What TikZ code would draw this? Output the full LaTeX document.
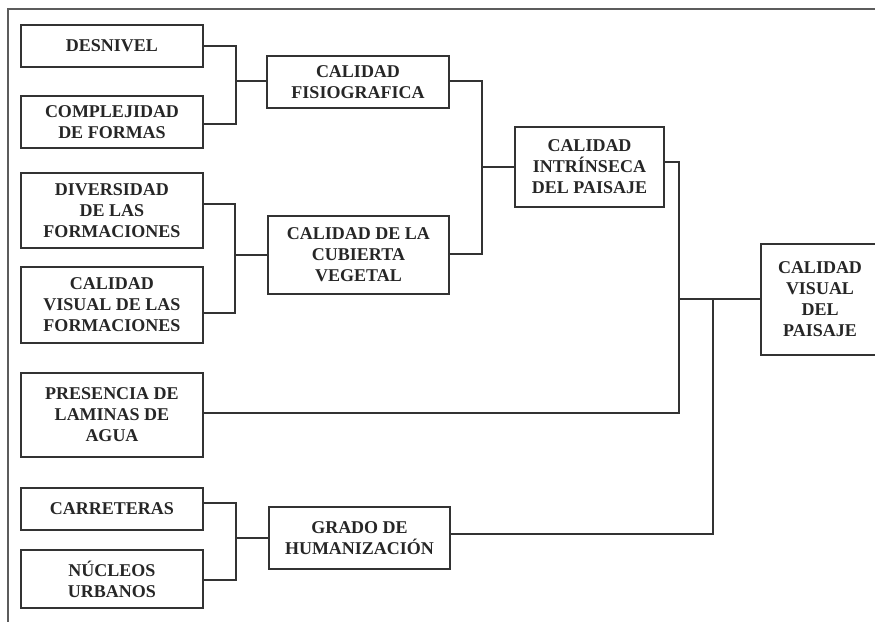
\documentclass[tikz,border=0pt]{standalone}
\usepackage{fontspec}
\setmainfont{Liberation Serif}
\definecolor{ink}{HTML}{333333}
\begin{document}
\begin{tikzpicture}[x=1pt,y=-1pt,
  box/.style={draw=ink, line width=1.7pt, rectangle, align=center, inner sep=0pt,
    font=\fontsize{18}{21}\selectfont\bfseries, text=black!85},
  link/.style={draw=ink, line width=1.3pt},
  frame/.style={draw=ink!80, line width=1.8pt}]
\useasboundingbox (0,0) rectangle (875,621);
\clip (0,0) rectangle (875,621);
\draw[frame] (8,630) -- (8,9) -- (880,9);
% left column
\node[box, minimum width=182, minimum height=42] (des) at (112,46) {DESNIVEL};
\node[box, minimum width=182, minimum height=52] (comp) at (112,122) {COMPLEJIDAD\\DE FORMAS};
\node[box, minimum width=182, minimum height=75] (div) at (112,210.5) {DIVERSIDAD\\DE LAS\\FORMACIONES};
\node[box, minimum width=182, minimum height=76] (cvf) at (112,305) {CALIDAD\\VISUAL DE LAS\\FORMACIONES};
\node[box, minimum width=182, minimum height=84] (pres) at (112,415) {PRESENCIA DE\\LAMINAS DE\\AGUA};
\node[box, minimum width=182, minimum height=42] (car) at (112,509) {CARRETERAS};
\node[box, minimum width=182, minimum height=58] (nuc) at (112,579) {NÚCLEOS\\URBANOS};
% middle column
\node[box, minimum width=182, minimum height=52] (fis) at (358,82) {CALIDAD\\FISIOGRAFICA};
\node[box, minimum width=181, minimum height=78] (cub) at (358.5,255) {CALIDAD DE LA\\CUBIERTA\\VEGETAL};
\node[box, minimum width=181, minimum height=62] (gra) at (359.5,538) {GRADO DE\\HUMANIZACIÓN};
% right
\node[box, minimum width=149, minimum height=80] (intr) at (589.5,167) {CALIDAD\\INTRÍNSECA\\DEL PAISAJE};
\node[box, minimum width=118, minimum height=111] (vis) at (820,299.5) {CALIDAD\\VISUAL\\DEL\\PAISAJE};
% junctions
\coordinate (j1) at (236,81);
\coordinate (j2) at (235,255);
\coordinate (j3) at (482,167);
\coordinate (j4) at (236,538);
\coordinate (j5) at (679,299);
\coordinate (j6) at (713,299);
% connectors
\draw[link] (des.east) -| (j1) |- ([yshift=-2pt]comp.east);
\draw[link] (j1) -- (j1 -| fis.west);
\draw[link] ([yshift=6.5pt]div.east) -| (j2) |- ([yshift=-8pt]cvf.east);
\draw[link] (j2) -- (j2 -| cub.west);
\draw[link] ([yshift=1pt]fis.east) -| (j3) |- ([yshift=1pt]cub.east);
\draw[link] (j3) -- (j3 -| intr.west);
\draw[link] ([yshift=5pt]intr.east) -| (j5) |- ([yshift=2pt]pres.east);
\draw[link] (j5) -- (j5 -| vis.west);
\draw[link] ([yshift=6pt]car.east) -| (j4) |- ([yshift=-1pt]nuc.east);
\draw[link] (j4) -- (j4 -| gra.west);
\draw[link] ([yshift=4pt]gra.east) -| (j6);
\end{tikzpicture}
\end{document}
